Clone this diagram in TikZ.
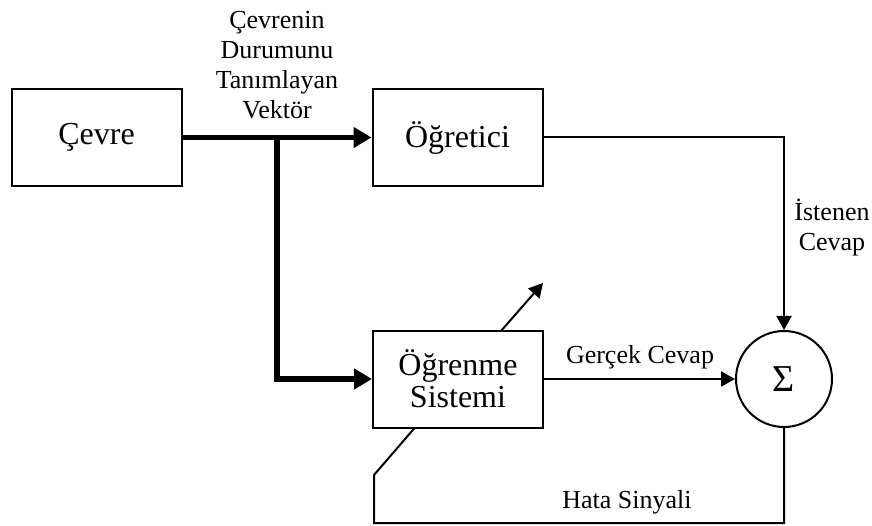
\documentclass[tikz,border=0pt]{standalone}
\usepackage{fontspec}
\setmainfont{Liberation Serif}
\usetikzlibrary{arrows.meta}
\begin{document}
\begin{tikzpicture}[x=1pt,y=-1pt,
  blk/.style={draw,line width=2pt,minimum width=170pt,minimum height=97pt,inner sep=0pt,font=\fontsize{32}{36}\selectfont,align=center},
  sumnode/.style={draw,circle,line width=2pt,minimum size=96pt,inner sep=0pt,font=\fontsize{38}{40}\selectfont},
  lbl/.style={font=\fontsize{26}{30}\selectfont,align=center,inner sep=0pt},
  thin/.style={line width=2pt,-{Triangle[length=14pt,width=15pt]}},
  thinline/.style={line width=2pt},
  thick/.style={line width=5.5pt,-{Triangle[length=18pt,width=20pt]}}]
\useasboundingbox (0,0) rectangle (872,526);
\node[blk] (cevre) at (96.5,137.5) {Çevre};
\node[blk] (ogretici) at (457.5,137.5) {Öğretici};
\node[blk] (ogrenme) at (458,379) {Öğrenme\\[-4pt]Sistemi};
\node[sumnode] (sum) at (784,379) {Σ};
\coordinate (j) at (277,137.5);
\draw[thick] (cevre.east) -- (ogretici.west);
\draw[thick,line join=miter] (j) -- (277,379) -- (ogrenme.west);
\draw[thin] (ogretici.east) -| (sum.north);
\draw[thin] (ogrenme.east) -- (sum.west);
\coordinate (d1) at (501,331);
\coordinate (d2) at (543,283);
\draw[thin] (d1) -- (d2);
\coordinate (f1) at (415,427.5);
\draw[thinline] (sum.south) -- (784,523) -- (374,523) -- (374,475) -- (f1);
\node[lbl] (vec) at (277,65) {Çevrenin\\Durumunu\\Tanımlayan\\Vektör};
\node[lbl] (ist) at (832,228) {İstenen\\Cevap};
\node[lbl] (ger) at (640,357) {Gerçek Cevap};
\node[lbl] (hata) at (627,502) {Hata Sinyali};
\end{tikzpicture}
\end{document}
